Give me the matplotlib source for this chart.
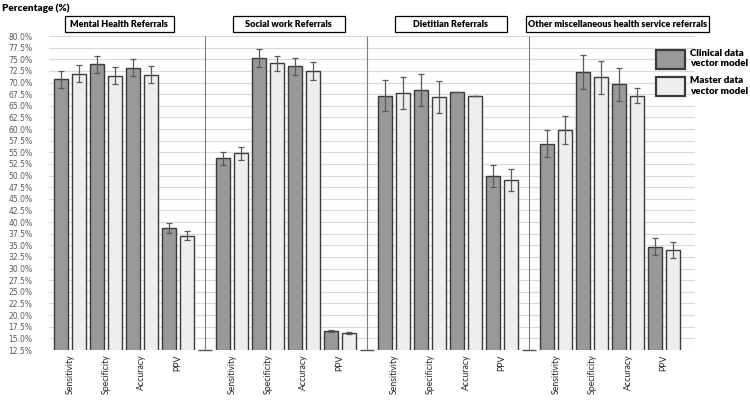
import numpy as np
import matplotlib
matplotlib.use("Agg")
import matplotlib.pyplot as plt
from matplotlib.patches import Patch, Rectangle
import matplotlib.transforms as mtransforms

# referral types (panels) and metrics
groups = ["Mental Health Referrals", "Social work Referrals",
          "Dietitian Referrals", "Other miscellaneous health service referrals"]
metrics = ["Sensitivity", "Specificity", "Accuracy", "PPV"]

# percentages, one row per referral type
clinical = np.array([
    [70.7, 73.9, 73.2, 38.7],
    [53.7, 75.3, 73.5, 16.6],
    [67.2, 68.4, 68.0, 49.9],
    [56.8, 72.3, 69.6, 34.7],
])
clinical_err = np.array([
    [1.8, 1.8, 1.8, 1.0],
    [1.4, 2.0, 1.8, 0.3],
    [3.4, 3.4, 0.0, 2.4],
    [2.9, 3.6, 3.5, 1.8],
])
master = np.array([
    [71.9, 71.5, 71.7, 37.1],
    [54.8, 74.1, 72.5, 16.2],
    [67.7, 66.9, 67.2, 49.0],
    [59.8, 71.1, 67.2, 34.0],
])
master_err = np.array([
    [1.8, 1.8, 1.8, 1.0],
    [1.4, 1.7, 1.9, 0.25],
    [3.4, 3.4, 0.0, 2.4],
    [3.0, 3.6, 1.6, 1.7],
])

series_names = ["Clinical data\nvector model", "Master data\nvector model"]

plt.rcParams['font.family'] = ['Lato', 'DejaVu Sans']

fig = plt.figure(figsize=(7.5, 4.04), dpi=100)
ax = fig.add_axes([49 / 750, 1 - 350 / 404, 646 / 750, 314 / 404])

group_step = 4.5
bw = 0.40
off = 0.255
edge = "#3a3a3a"
c_clin = "#999999"
c_mast = "#eeeeee"
err_kw = dict(ecolor="#5a5a5a", elinewidth=0.9, capsize=2, capthick=0.9)

xticks = []
xlabels = []
for g in range(len(groups)):
    x = g * group_step + np.arange(len(metrics))
    ax.bar(x - off, clinical[g], bw, yerr=clinical_err[g], color=c_clin,
           edgecolor=edge, linewidth=1.0, error_kw=err_kw, zorder=3)
    ax.bar(x + off, master[g], bw, yerr=master_err[g], color=c_mast,
           edgecolor=edge, linewidth=1.0, error_kw=err_kw, zorder=3)
    xticks.extend(x)
    xlabels.extend(metrics)
    if g < len(groups) - 1:
        sep = g * group_step + 3.75
        ax.vlines(sep, 12.5, 80, color="#7f7f7f", linewidth=0.8, zorder=2)
        ax.hlines(12.5, sep - 0.2, sep + 0.2, color="#555555",
                  linewidth=1.0, zorder=2, clip_on=False)

ax.set_ylim(12.5, 80)
ax.set_xlim(-0.58, 17.36)
ax.set_yticks(np.arange(12.5, 80.01, 2.5))
ax.set_yticklabels([f"{v:.1f}%" for v in np.arange(12.5, 80.01, 2.5)],
                   family="DejaVu Sans", fontsize=5.5, color="#595959")
ax.set_xticks(xticks)
ax.set_xticklabels(xlabels, rotation=90, fontsize=6.3, color="#262626")
ax.tick_params(axis="y", length=0, pad=12)
ax.tick_params(axis="x", length=0, pad=3)
ax.grid(axis="y", color="#d9d9d9", linewidth=0.8, zorder=0)
ax.set_axisbelow(True)
for s in ax.spines.values():
    s.set_visible(False)

# panel title boxes (x center, width in category units)
trans = mtransforms.blended_transform_factory(ax.transData, ax.transAxes)
box_x = [1.375, 6.08, 10.58, 15.21]
box_w = [3.03, 3.11, 3.11, 5.08]
for g, name in enumerate(groups):
    ax.add_patch(Rectangle((box_x[g] - box_w[g] / 2, 1.0127), box_w[g], 0.051,
                           transform=trans, facecolor="white", edgecolor="black",
                           linewidth=0.9, clip_on=False, zorder=4))
    ax.text(box_x[g], 1.0382, name, transform=trans, ha="center", va="center",
            fontsize=6.5, fontweight="heavy", zorder=5)

fig.text(0.003, 1 - 8 / 404, "Percentage (%)", ha="left", va="center",
         fontsize=7.2, fontweight="heavy")

handles = [Patch(facecolor=c_clin, edgecolor=edge, linewidth=1.6),
           Patch(facecolor=c_mast, edgecolor=edge, linewidth=1.6)]
fig.legend(handles, series_names, loc="upper left",
           bbox_to_anchor=(656 / 750, 1 - 49 / 404), frameon=False,
           prop={"weight": "heavy", "size": 7.0},
           handlelength=3.0, handleheight=2.6, handletextpad=0.45,
           labelspacing=0.8, borderpad=0, borderaxespad=0)

fig.savefig("out.png", dpi=100)
